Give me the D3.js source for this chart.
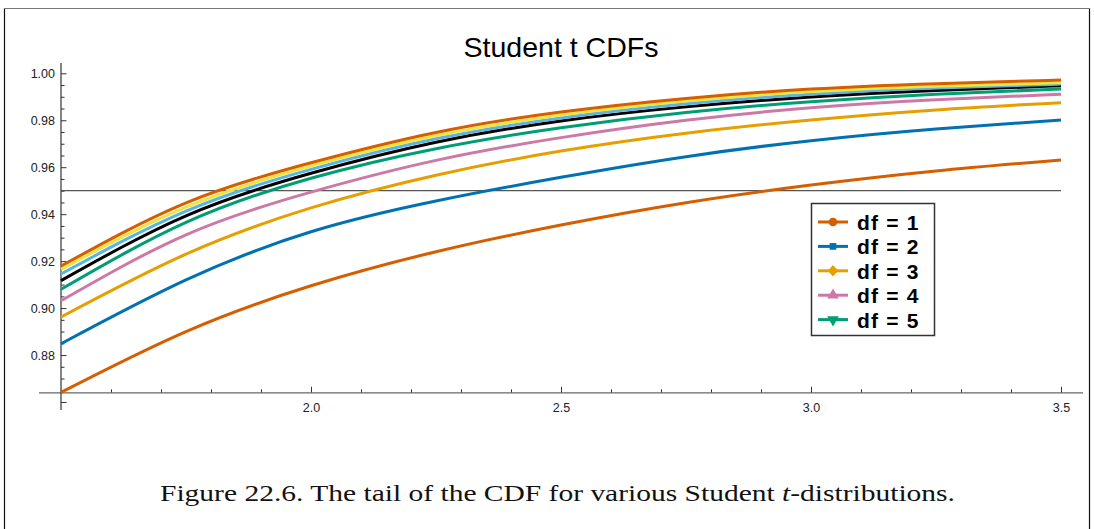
<!DOCTYPE html>
<html>
<head>
<meta charset="utf-8">
<script src="https://cdn.jsdelivr.net/npm/d3@7"></script>
<style>
  body { margin: 0; background: #fff; }
  text { font-family: "Liberation Sans", Arial, sans-serif; }
</style>
</head>
<body>
<div class="canvas"></div>
<script>
// values, every 0.25 from 1.5 to 3.5
const xs  = [1.5, 1.75, 2.0, 2.25, 2.5, 2.75, 3.0, 3.25, 3.5]
const df1 = [0.8641, 0.8900, 0.9095, 0.9240, 0.9354, 0.9449, 0.9524, 0.9584, 0.9631]
const df2 = [0.8848, 0.9120, 0.9325, 0.9456, 0.9557, 0.9645, 0.9713, 0.9763, 0.9801]
const df3 = [0.8962, 0.9230, 0.9427, 0.9566, 0.9669, 0.9745, 0.9801, 0.9844, 0.9875]
const df4 = [0.9031, 0.9312, 0.9494, 0.9629, 0.9726, 0.9800, 0.9853, 0.9887, 0.9911]
const df5 = [0.9080, 0.9365, 0.9553, 0.9679, 0.9768, 0.9833, 0.9879, 0.9911, 0.9933]
const df6 = [0.9117, 0.9393, 0.9574, 0.9706, 0.9797, 0.9857, 0.9899, 0.9927, 0.9947]
const df7 = [0.9145, 0.9413, 0.9591, 0.9721, 0.9810, 0.9870, 0.9911, 0.9937, 0.9954]
const df8 = [0.9165, 0.9430, 0.9605, 0.9734, 0.9822, 0.9882, 0.9922, 0.9945, 0.9960]
const df9 = [0.9179, 0.9448, 0.9619, 0.9748, 0.9835, 0.9893, 0.9933, 0.9956, 0.9971]

const series = [df1, df2, df3, df4, df5, df6, df7, df8, df9]
const colors = ['#d55e00', '#0072b2', '#e69f00', '#cc79a7', '#009e73',
                '#000000', '#56b4e9', '#f0e442', '#d55e00']

const legendLabels = ['df = 1', 'df = 2', 'df = 3', 'df = 4', 'df = 5']
const legendSymbols = [d3.symbolCircle, d3.symbolSquare, d3.symbolDiamond,
                       d3.symbolTriangle, d3.symbolTriangle]

const xMajor = [2.0, 2.5, 3.0, 3.5]
const yMajor = [0.86, 0.88, 0.90, 0.92, 0.94, 0.96, 0.98, 1.00]
const cutoff = 0.95
const xAxisAt = 0.8639
const xExtent = [1.456, 3.544]
const yExtent = [0.8566, 1.0044]

const title = 'Student t CDFs'

const dims = { width: 1094, height: 529 }

const svg = d3.select('.canvas')
              .append('svg')
              .attr('width', dims.width)
              .attr('height', dims.height)

// page frame
svg.append('line').attr('x1', 4.5).attr('x2', 4.5).attr('y1', 8).attr('y2', 529)
   .attr('stroke', '#111').attr('stroke-width', 1.2)
svg.append('line').attr('x1', 1089.5).attr('x2', 1089.5).attr('y1', 8).attr('y2', 529)
   .attr('stroke', '#111').attr('stroke-width', 1.2)
svg.append('line').attr('x1', 4).attr('x2', 1090).attr('y1', 8.5).attr('y2', 8.5)
   .attr('stroke', '#777').attr('stroke-width', 1.2)

const x = d3.scaleLinear().domain([1.5, 3.5]).range([61, 1061])
const y = d3.scaleLinear().domain([0.86, 1.0]).range([402, 73.3])

const graph = svg.append('g')

// title
graph.append('text')
     .attr('x', x(2.5))
     .attr('y', 57)
     .attr('text-anchor', 'middle')
     .attr('font-size', 28.5)
     .text(title)

// x axis
const xMinor = d3.range(16, 35).map(d => d / 10).filter(d => !xMajor.some(m => Math.abs(m - d) < 1e-9))

const xAxisG = graph.append('g').attr('transform', `translate(0, ${y(xAxisAt)})`)
xAxisG.call(d3.axisBottom(x).tickValues(xMajor).tickFormat(d3.format('.1f'))
              .tickSizeInner(-6).tickSizeOuter(0).tickPadding(10))
xAxisG.append('g')
      .call(d3.axisBottom(x).tickValues(xMinor).tickFormat('').tickSizeInner(-3.5).tickSizeOuter(0))
xAxisG.selectAll('.domain').remove()
xAxisG.append('line')
      .attr('x1', x(xExtent[0])).attr('x2', x(xExtent[1]))
      .attr('stroke', '#666').attr('stroke-width', 1.2)

// y axis
const yMinor = d3.range(0, 29).map(d => 0.86 + d * 0.005).filter(d => !yMajor.some(m => Math.abs(m - d) < 1e-9))

const yAxisG = graph.append('g').attr('transform', `translate(${x(1.5)}, 0)`)
yAxisG.call(d3.axisLeft(y).tickValues(yMajor)
              .tickFormat(d => d < 0.87 ? '' : d3.format('.2f')(d))
              .tickSizeInner(-5.5).tickSizeOuter(0).tickPadding(6))
yAxisG.append('g')
      .call(d3.axisLeft(y).tickValues(yMinor).tickFormat('').tickSizeInner(-3.5).tickSizeOuter(0))
yAxisG.selectAll('.domain').remove()
yAxisG.append('line')
      .attr('y1', y(yExtent[0])).attr('y2', y(yExtent[1]))
      .attr('stroke', '#333').attr('stroke-width', 1.2)

graph.selectAll('.tick line').attr('stroke', '#333')
graph.selectAll('.tick text')
     .attr('font-size', 12.5)
     .attr('font-family', '"Liberation Sans", Arial, sans-serif')
     .attr('fill', '#222')

// 0.95 reference line
graph.append('line')
     .attr('x1', x(1.5)).attr('x2', x(3.5))
     .attr('y1', y(cutoff)).attr('y2', y(cutoff))
     .attr('stroke', '#555').attr('stroke-width', 1.2)

// curves
const line = d3.line()
               .x((d, i) => x(xs[i]))
               .y(d => y(d))
               .curve(d3.curveNatural)

graph.selectAll('.curve')
     .data(series)
     .enter()
     .append('path')
     .attr('class', 'curve')
     .attr('fill', 'none')
     .attr('stroke', (d, i) => colors[i])
     .attr('stroke-width', 3)
     .attr('d', line)

// legend
const legend = graph.append('g').attr('transform', 'translate(811, 203)')

legend.append('rect')
      .attr('x', 0.5).attr('y', 0.5)
      .attr('width', 123).attr('height', 132)
      .attr('fill', '#fff')
      .attr('stroke', '#333')
      .attr('stroke-width', 1.5)

const rows = legend.selectAll('.row')
                   .data(legendLabels)
                   .enter()
                   .append('g')
                   .attr('class', 'row')
                   .attr('transform', (d, i) => `translate(0, ${19 + i * 24.4})`)

rows.append('line')
    .attr('x1', 7).attr('x2', 37)
    .attr('stroke', (d, i) => colors[i])
    .attr('stroke-width', 3)

rows.append('path')
    .attr('transform', (d, i) => {
        const flip = i === 4 ? ' rotate(180)' : ''
        const squash = i === 2 ? ' scale(1.25, 0.8)' : ''
        return `translate(22, 0)${flip}${squash}`
    })
    .attr('d', (d, i) => d3.symbol().type(legendSymbols[i]).size(i === 1 ? 45 : 60)())
    .attr('fill', (d, i) => colors[i])

rows.append('text')
    .attr('x', 46)
    .attr('y', 8)
    .attr('font-size', 21)
    .attr('font-weight', 'bold')
    .attr('letter-spacing', 1.2)
    .attr('fill', '#000')
    .text(d => d)

// caption
const caption = svg.append('text')
                   .attr('x', 160)
                   .attr('y', 501)
                   .attr('font-size', 24)
                   .attr('fill', '#111')
                   .attr('textLength', 795)
                   .attr('lengthAdjust', 'spacingAndGlyphs')
                   .style('font-family', '"Liberation Serif", "DejaVu Serif", serif')
caption.append('tspan').text('Figure 22.6. The tail of the CDF for various Student ')
caption.append('tspan').attr('font-style', 'italic').text('t')
caption.append('tspan').text('-distributions.')
</script>
</body>
</html>
